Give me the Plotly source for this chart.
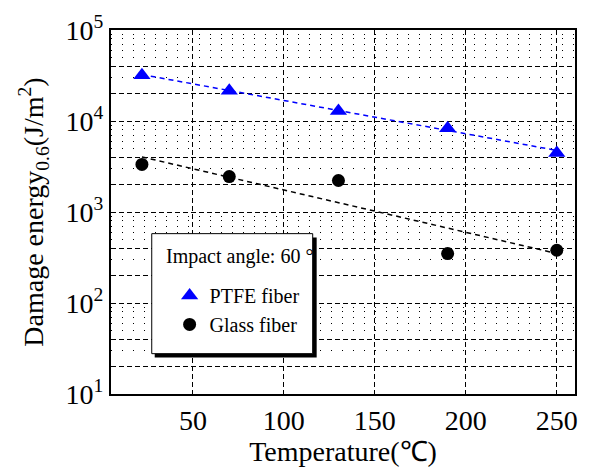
import plotly.graph_objects as go

# ---- data ----
temperature = [22, 70, 130, 190, 250]
ptfe_energy = [31900, 21500, 12900, 8300, 4450]
glass_energy = [3330, 2450, 2220, 349, 380]

fit_x = [22, 250]
ptfe_fit = [32400, 4750]
glass_fit = [4030, 350]

y_decades = [10, 100, 1000, 10000, 100000]
y_decade_text = ["10<sup>1</sup>", "10<sup>2</sup>", "10<sup>3</sup>", "10<sup>4</sup>", "10<sup>5</sup>"]
y_dashed = [20, 40, 200, 400, 2000, 4000, 20000, 40000]
y_minor = [30, 50, 60, 70, 80, 90, 300, 500, 600, 700, 800, 900,
           3000, 5000, 6000, 7000, 8000, 9000, 30000, 50000, 60000, 70000, 80000, 90000]
x_ticks = [50, 100, 150, 200, 250]

FONT = "Liberation Serif"

fig = go.Figure()

# invisible helper trace so the secondary (grid-only) y axis is drawn
fig.add_trace(go.Scatter(x=temperature, y=ptfe_energy, yaxis="y2", mode="markers",
                         marker=dict(opacity=0), showlegend=False, hoverinfo="skip"))
fig.add_trace(go.Scatter(x=fit_x, y=ptfe_fit, mode="lines", showlegend=False,
                         line=dict(color="#0000ff", width=1.5, dash="5px,4px"), hoverinfo="skip"))
fig.add_trace(go.Scatter(x=fit_x, y=glass_fit, mode="lines", showlegend=False,
                         line=dict(color="black", width=1.5, dash="5px,4px"), hoverinfo="skip"))
fig.add_trace(go.Scatter(x=temperature, y=ptfe_energy, mode="markers", name="PTFE fiber",
                         marker=dict(symbol="triangle-up", size=15, color="#0000ff")))
fig.add_trace(go.Scatter(x=temperature, y=glass_energy, mode="markers", name="Glass fiber",
                         marker=dict(symbol="circle", size=13, color="black")))

# legend box with shadow (paper coords)
L, R, T, B = 111, 11, 26, 76
W, H = 589, 472
pw, ph = W - L - R, H - T - B
def px(x):
    return (x - L) / pw
def py(y):
    return (H - B - y) / ph

fig.add_shape(type="rect", xref="paper", yref="paper", layer="above",
              x0=px(155), x1=px(318), y0=py(359), y1=py(237),
              fillcolor="black", line=dict(width=0))
fig.add_shape(type="rect", xref="paper", yref="paper", layer="above",
              x0=px(152), x1=px(314), y0=py(355), y1=py(233),
              fillcolor="white", line=dict(color="black", width=1))
fig.add_annotation(xref="paper", yref="paper", x=px(164), y=py(256), xanchor="left", yanchor="middle",
                   text="Impact angle: 60 °", showarrow=False,
                   font=dict(family=FONT, size=20, color="black"))

fig.update_layout(
    width=W, height=H,
    margin=dict(l=L, r=R, t=T, b=B),
    paper_bgcolor="white", plot_bgcolor="white",
    font=dict(family=FONT, size=28, color="black"),
    showlegend=True,
    legend=dict(x=px(170), y=py(276), xanchor="left", yanchor="top",
                bgcolor="rgba(0,0,0,0)", borderwidth=0,
                font=dict(family=FONT, size=20, color="black"),
                tracegroupgap=0),
    xaxis=dict(range=[5, 260], tickvals=x_ticks, ticks="", showline=True, mirror=True,
               linecolor="black", linewidth=2, zeroline=False,
               showgrid=True, gridcolor="black", gridwidth=1, griddash="5px,3px",
               tickfont=dict(family=FONT, size=28),
               title=dict(text="Temperature(℃)", font=dict(family=FONT, size=28), standoff=6)),
    yaxis=dict(type="log", range=[1, 5], tickvals=y_decades, ticktext=y_decade_text, ticks="",
               showline=True, mirror=True, linecolor="black", linewidth=2, zeroline=False,
               showgrid=True, gridcolor="black", gridwidth=1, griddash="5px,3px",
               minor=dict(tickvals=y_minor, showgrid=True, gridcolor="black", gridwidth=1,
                          griddash="1px,10px", ticks=""),
               tickfont=dict(family=FONT, size=28),
               title=dict(text="Damage energy<sub>0.6</sub>(J/m<sup>2</sup>)",
                          font=dict(family=FONT, size=28), standoff=14)),
    yaxis2=dict(type="log", range=[1, 5], overlaying="y", side="left", tickvals=y_dashed,
                showticklabels=False, ticks="", showline=False, zeroline=False,
                showgrid=True, gridcolor="black", gridwidth=1, griddash="5px,3px"),
)

fig.write_html("out.html", config={"displayModeBar": False},
               post_script="document.body.style.margin='0px';document.body.style.overflow='hidden';")
